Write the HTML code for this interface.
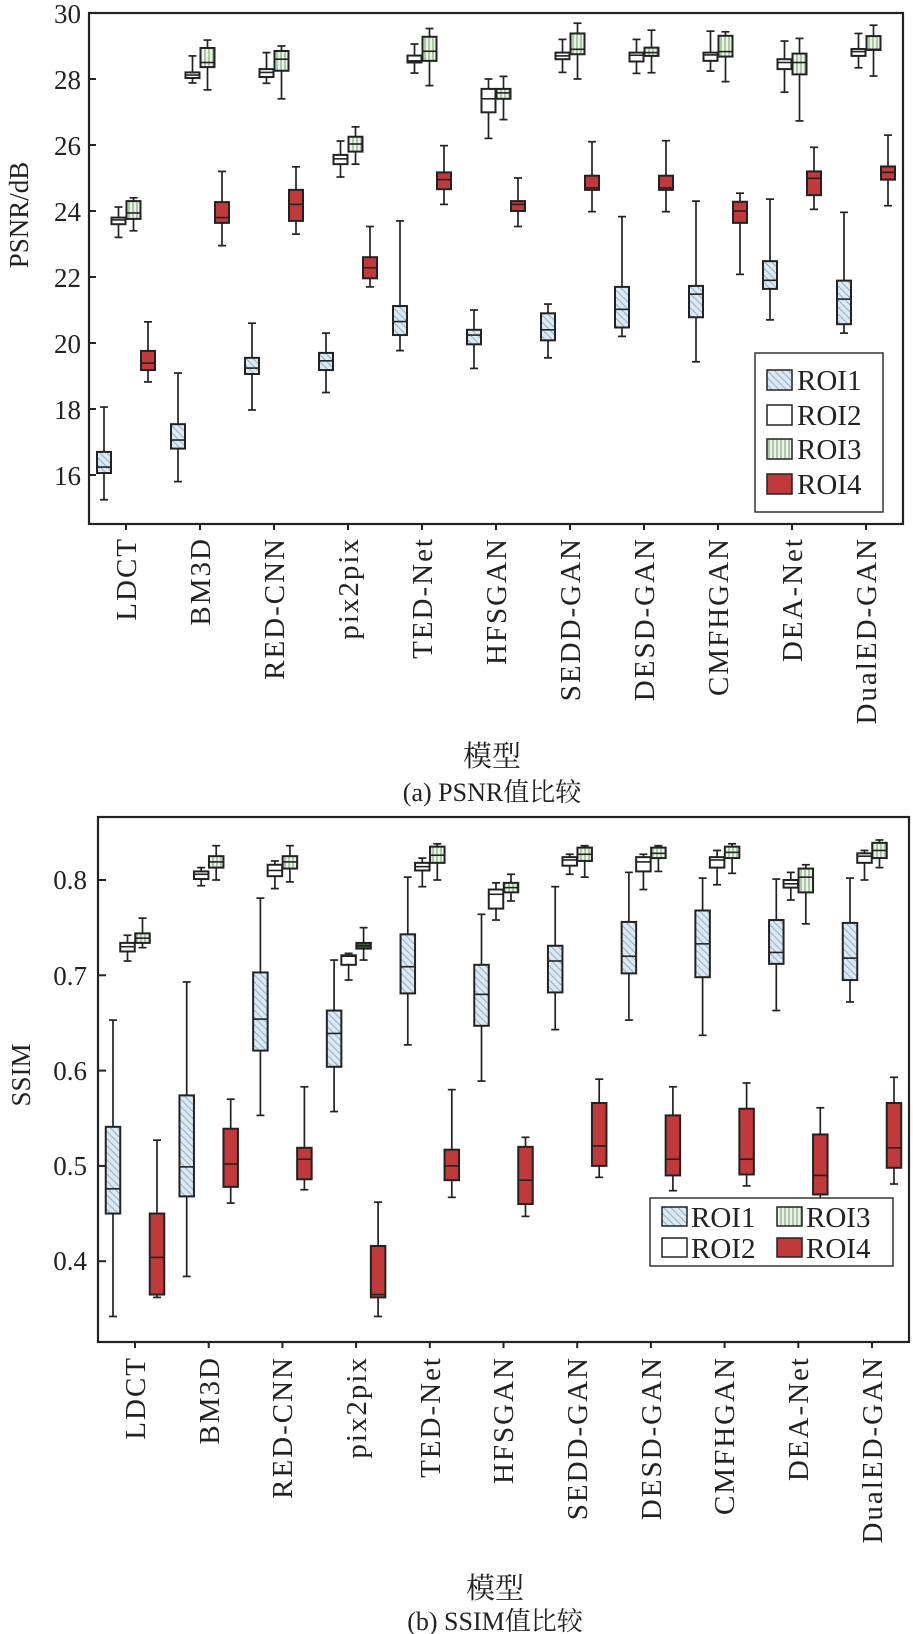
<!DOCTYPE html>
<html><head><meta charset="utf-8">
<style>
html,body{margin:0;padding:0;background:#fff;}
svg{display:block;}
text{font-family:"Liberation Serif","Noto Serif CJK SC",serif;fill:#222;}
.cjk{font-family:"Liberation Serif","Noto Serif CJK SC","Noto Sans CJK SC",serif;}
</style></head>
<body>
<svg id="s" width="913" height="1634" viewBox="0 0 913 1634" xmlns="http://www.w3.org/2000/svg">
<defs>
<pattern id="h1" patternUnits="userSpaceOnUse" width="5" height="5" patternTransform="rotate(-45)">
<rect width="5" height="5" fill="#dce9f3"/><line x1="0" y1="0" x2="0" y2="5" stroke="#7c9fbd" stroke-width="1.6"/></pattern>
<pattern id="h3" patternUnits="userSpaceOnUse" width="4" height="4">
<rect width="4" height="4" fill="#e9f4e4"/><line x1="1" y1="0" x2="1" y2="4" stroke="#6f9a6f" stroke-width="1"/></pattern>
</defs>
<g id="g"></g>
<rect x="89" y="13" width="814" height="511" fill="none" stroke="#222" stroke-width="2.2"/>
<rect x="98" y="817" width="811" height="525" fill="none" stroke="#222" stroke-width="2.2"/>
<g font-size="27" text-anchor="end">
<text x="81" y="23">30</text><text x="81" y="89">28</text><text x="81" y="155">26</text>
<text x="81" y="221">24</text><text x="81" y="287">22</text><text x="81" y="353">20</text>
<text x="81" y="419">18</text><text x="81" y="485">16</text>
</g>
<text font-size="27" transform="translate(28,215) rotate(-90)" text-anchor="middle">PSNR/dB</text>
<g font-size="29" letter-spacing="2" text-anchor="end">
<text transform="translate(136,537) rotate(-90)">LDCT</text>
<text transform="translate(210,537) rotate(-90)">BM3D</text>
<text transform="translate(284,537) rotate(-90)">RED-CNN</text>
<text transform="translate(358,537) rotate(-90)">pix2pix</text>
<text transform="translate(432,537) rotate(-90)">TED-Net</text>
<text transform="translate(506,537) rotate(-90)">HFSGAN</text>
<text transform="translate(580,537) rotate(-90)">SEDD-GAN</text>
<text transform="translate(654,537) rotate(-90)">DESD-GAN</text>
<text transform="translate(728,537) rotate(-90)">CMFHGAN</text>
<text transform="translate(802,537) rotate(-90)">DEA-Net</text>
<text transform="translate(876,537) rotate(-90)">DualED-GAN</text>
</g>
<text class="cjk" x="492" y="766" font-size="29" text-anchor="middle">模型</text>
<text class="cjk" x="492" y="801" font-size="26" text-anchor="middle">(a) PSNR值比较</text>
<g font-size="27" text-anchor="end">
<text x="87" y="889">0.8</text><text x="87" y="985">0.7</text><text x="87" y="1080">0.6</text>
<text x="87" y="1175">0.5</text><text x="87" y="1270">0.4</text>
</g>
<text font-size="27" transform="translate(30,1075) rotate(-90)" text-anchor="middle">SSIM</text>
<g font-size="29" letter-spacing="2" text-anchor="end">
<text transform="translate(145,1356) rotate(-90)">LDCT</text>
<text transform="translate(219,1356) rotate(-90)">BM3D</text>
<text transform="translate(292,1356) rotate(-90)">RED-CNN</text>
<text transform="translate(366,1356) rotate(-90)">pix2pix</text>
<text transform="translate(440,1356) rotate(-90)">TED-Net</text>
<text transform="translate(513,1356) rotate(-90)">HFSGAN</text>
<text transform="translate(587,1356) rotate(-90)">SEDD-GAN</text>
<text transform="translate(661,1356) rotate(-90)">DESD-GAN</text>
<text transform="translate(734,1356) rotate(-90)">CMFHGAN</text>
<text transform="translate(808,1356) rotate(-90)">DEA-Net</text>
<text transform="translate(882,1356) rotate(-90)">DualED-GAN</text>
</g>
<text class="cjk" x="495" y="1598" font-size="29" text-anchor="middle">模型</text>
<text class="cjk" x="495" y="1630" font-size="26" text-anchor="middle">(b) SSIM值比较</text>
<rect x="755" y="353" width="128" height="159" fill="#fff" stroke="#333" stroke-width="1.5"/>
<rect x="767" y="370" width="25" height="20" fill="url(#h1)" stroke="#222" stroke-width="1.5"/>
<rect x="767" y="405" width="25" height="20" fill="#fff" stroke="#222" stroke-width="1.5"/>
<rect x="767" y="439" width="25" height="20" fill="url(#h3)" stroke="#222" stroke-width="1.5"/>
<rect x="767" y="474" width="25" height="20" fill="#c0393b" stroke="#222" stroke-width="1.5"/>
<g font-size="29"><text x="797" y="390">ROI1</text><text x="797" y="425">ROI2</text><text x="797" y="459">ROI3</text><text x="797" y="494">ROI4</text></g>
<rect x="650" y="1198" width="243" height="68" fill="#fff" stroke="#333" stroke-width="1.5"/>
<rect x="662" y="1207" width="25" height="19" fill="url(#h1)" stroke="#222" stroke-width="1.5"/>
<rect x="777" y="1207" width="25" height="19" fill="url(#h3)" stroke="#222" stroke-width="1.5"/>
<rect x="662" y="1238" width="25" height="19" fill="#fff" stroke="#222" stroke-width="1.5"/>
<rect x="777" y="1238" width="25" height="19" fill="#c0393b" stroke="#222" stroke-width="1.5"/>
<g font-size="29"><text x="691" y="1227">ROI1</text><text x="806" y="1227">ROI3</text><text x="691" y="1258">ROI2</text><text x="806" y="1258">ROI4</text></g>
</svg>
<script>
(function(){
var NS="http://www.w3.org/2000/svg",g=document.getElementById('g');
function el(n,a){var e=document.createElementNS(NS,n);for(var k in a)e.setAttribute(k,a[k]);g.appendChild(e);return e;}
var fills=['url(#h1)','#fff','url(#h3)','#c0393b'];
var P=[
[[15.25,16.06,16.24,16.7,18.06],[23.2,23.6,23.73,23.8,24.12],[23.4,23.76,23.94,24.3,24.4],[18.82,19.18,19.39,19.76,20.64]],
[[15.8,16.8,17.06,17.54,19.09],[27.88,28.03,28.12,28.2,28.7],[27.67,28.36,28.5,28.94,29.18],[22.95,23.64,23.8,24.27,25.2]],
[[17.97,19.06,19.24,19.55,20.6],[27.87,28.06,28.2,28.3,28.8],[27.4,28.25,28.6,28.85,29.0],[23.3,23.7,24.2,24.64,25.34]],
[[18.5,19.18,19.46,19.7,20.3],[25.03,25.42,25.58,25.7,26.12],[25.42,25.8,26.03,26.25,26.55],[21.7,21.96,22.28,22.6,23.53]],
[[19.77,20.24,20.65,21.12,23.7],[28.18,28.5,28.55,28.71,29.06],[27.8,28.55,28.84,29.28,29.53],[24.2,24.66,24.95,25.17,25.98]],
[[19.23,19.96,20.24,20.4,21.0],[26.2,26.99,27.4,27.7,28.0],[26.77,27.4,27.58,27.7,28.08],[23.53,24.0,24.2,24.3,25.0]],
[[19.55,20.08,20.4,20.9,21.18],[28.2,28.6,28.7,28.8,29.2],[28.0,28.75,28.9,29.38,29.69],[23.98,24.64,24.7,25.07,26.1]],
[[20.2,20.47,21.02,21.7,23.83],[28.17,28.53,28.72,28.8,29.2],[28.19,28.7,28.8,28.95,29.48],[23.98,24.64,24.7,25.07,26.13]],
[[19.43,20.78,21.48,21.73,24.3],[28.24,28.55,28.73,28.8,29.45],[27.92,28.68,28.83,29.31,29.43],[22.08,23.64,24.0,24.28,24.54]],
[[20.7,21.64,21.9,22.48,24.36],[27.6,28.3,28.5,28.6,29.15],[26.73,28.14,28.5,28.77,29.23],[24.05,24.48,24.99,25.2,25.93]],
[[20.3,20.57,21.33,21.89,23.96],[28.34,28.7,28.83,28.91,29.38],[28.09,28.88,28.9,29.3,29.63],[24.16,24.95,25.17,25.35,26.3]]];
var S=[
[[0.342,0.45,0.476,0.541,0.653],[0.715,0.725,0.73,0.734,0.742],[0.729,0.734,0.739,0.744,0.76],[0.362,0.365,0.404,0.45,0.527]],
[[0.384,0.468,0.499,0.574,0.693],[0.794,0.801,0.806,0.809,0.813],[0.8,0.813,0.819,0.825,0.836],[0.461,0.478,0.502,0.539,0.57]],
[[0.553,0.621,0.654,0.703,0.781],[0.791,0.804,0.81,0.816,0.82],[0.798,0.812,0.819,0.825,0.836],[0.475,0.486,0.507,0.519,0.583]],
[[0.557,0.604,0.639,0.663,0.716],[0.695,0.711,0.72,0.721,0.723],[0.716,0.728,0.731,0.734,0.75],[0.342,0.362,0.365,0.416,0.462]],
[[0.627,0.681,0.709,0.743,0.803],[0.793,0.81,0.814,0.818,0.823],[0.8,0.818,0.826,0.835,0.838],[0.467,0.485,0.5,0.517,0.58]],
[[0.589,0.647,0.68,0.711,0.764],[0.758,0.77,0.785,0.79,0.797],[0.778,0.787,0.792,0.797,0.806],[0.447,0.46,0.485,0.52,0.53]],
[[0.643,0.682,0.715,0.731,0.793],[0.806,0.815,0.821,0.824,0.827],[0.803,0.82,0.827,0.834,0.836],[0.488,0.5,0.521,0.566,0.591]],
[[0.653,0.702,0.72,0.756,0.808],[0.79,0.809,0.819,0.824,0.827],[0.809,0.823,0.828,0.834,0.836],[0.474,0.49,0.507,0.553,0.583]],
[[0.637,0.698,0.733,0.768,0.802],[0.795,0.813,0.821,0.824,0.831],[0.807,0.823,0.829,0.835,0.838],[0.479,0.491,0.507,0.56,0.587]],
[[0.663,0.712,0.724,0.758,0.801],[0.779,0.792,0.796,0.8,0.808],[0.754,0.787,0.803,0.812,0.816],[0.453,0.47,0.49,0.533,0.561]],
[[0.672,0.695,0.718,0.755,0.802],[0.8,0.818,0.825,0.828,0.831],[0.813,0.823,0.831,0.839,0.842],[0.481,0.498,0.519,0.566,0.593]]];
function draw(D,c0,dc,yv,offs,w,tickY,dark){
 for(var i=0;i<D.length;i++){
  var c=c0+dc*i;
  el('line',{x1:c,y1:tickY,x2:c,y2:tickY+6,stroke:'#222','stroke-width':2});
  for(var j=0;j<4;j++){
   var d=D[i][j],x=c+offs[j];
   var lo=yv(d[0]),q1=yv(d[1]),md=yv(d[2]),q3=yv(d[3]),hi=yv(d[4]);
   el('line',{x1:x,y1:hi,x2:x,y2:q3,stroke:'#222','stroke-width':1.7});
   el('line',{x1:x,y1:q1,x2:x,y2:lo,stroke:'#222','stroke-width':1.7});
   el('line',{x1:x-4,y1:hi,x2:x+4,y2:hi,stroke:'#222','stroke-width':1.7});
   el('line',{x1:x-4,y1:lo,x2:x+4,y2:lo,stroke:'#222','stroke-width':1.7});
   var f=fills[j]; if(dark&&i==3&&j==2)f='#3d5e3d';
   el('rect',{x:x-w/2,y:q3,width:w,height:Math.max(q1-q3,1.5),fill:f,stroke:'#222','stroke-width':2});
   el('line',{x1:x-w/2,y1:md,x2:x+w/2,y2:md,stroke:'#222','stroke-width':1.6});
  }
 }
}
draw(P,126,74,function(v){return 13+(30-v)*33;},[-22,-7.5,7.5,22],14,524,false);
draw(S,135,73.7,function(v){return 880+(0.8-v)*953;},[-22,-7.5,7.5,22],14.5,1342,true);
[0.8,0.7,0.6,0.5,0.4].forEach(function(v){var y=880+(0.8-v)*953;el('line',{x1:98,y1:y,x2:106,y2:y,stroke:'#222','stroke-width':2});});
[28,26,24,22,20,18,16].forEach(function(v){var y=13+(30-v)*33;el('line',{x1:89,y1:y,x2:96,y2:y,stroke:'#222','stroke-width':2});});
})();
</script>
</body></html>
